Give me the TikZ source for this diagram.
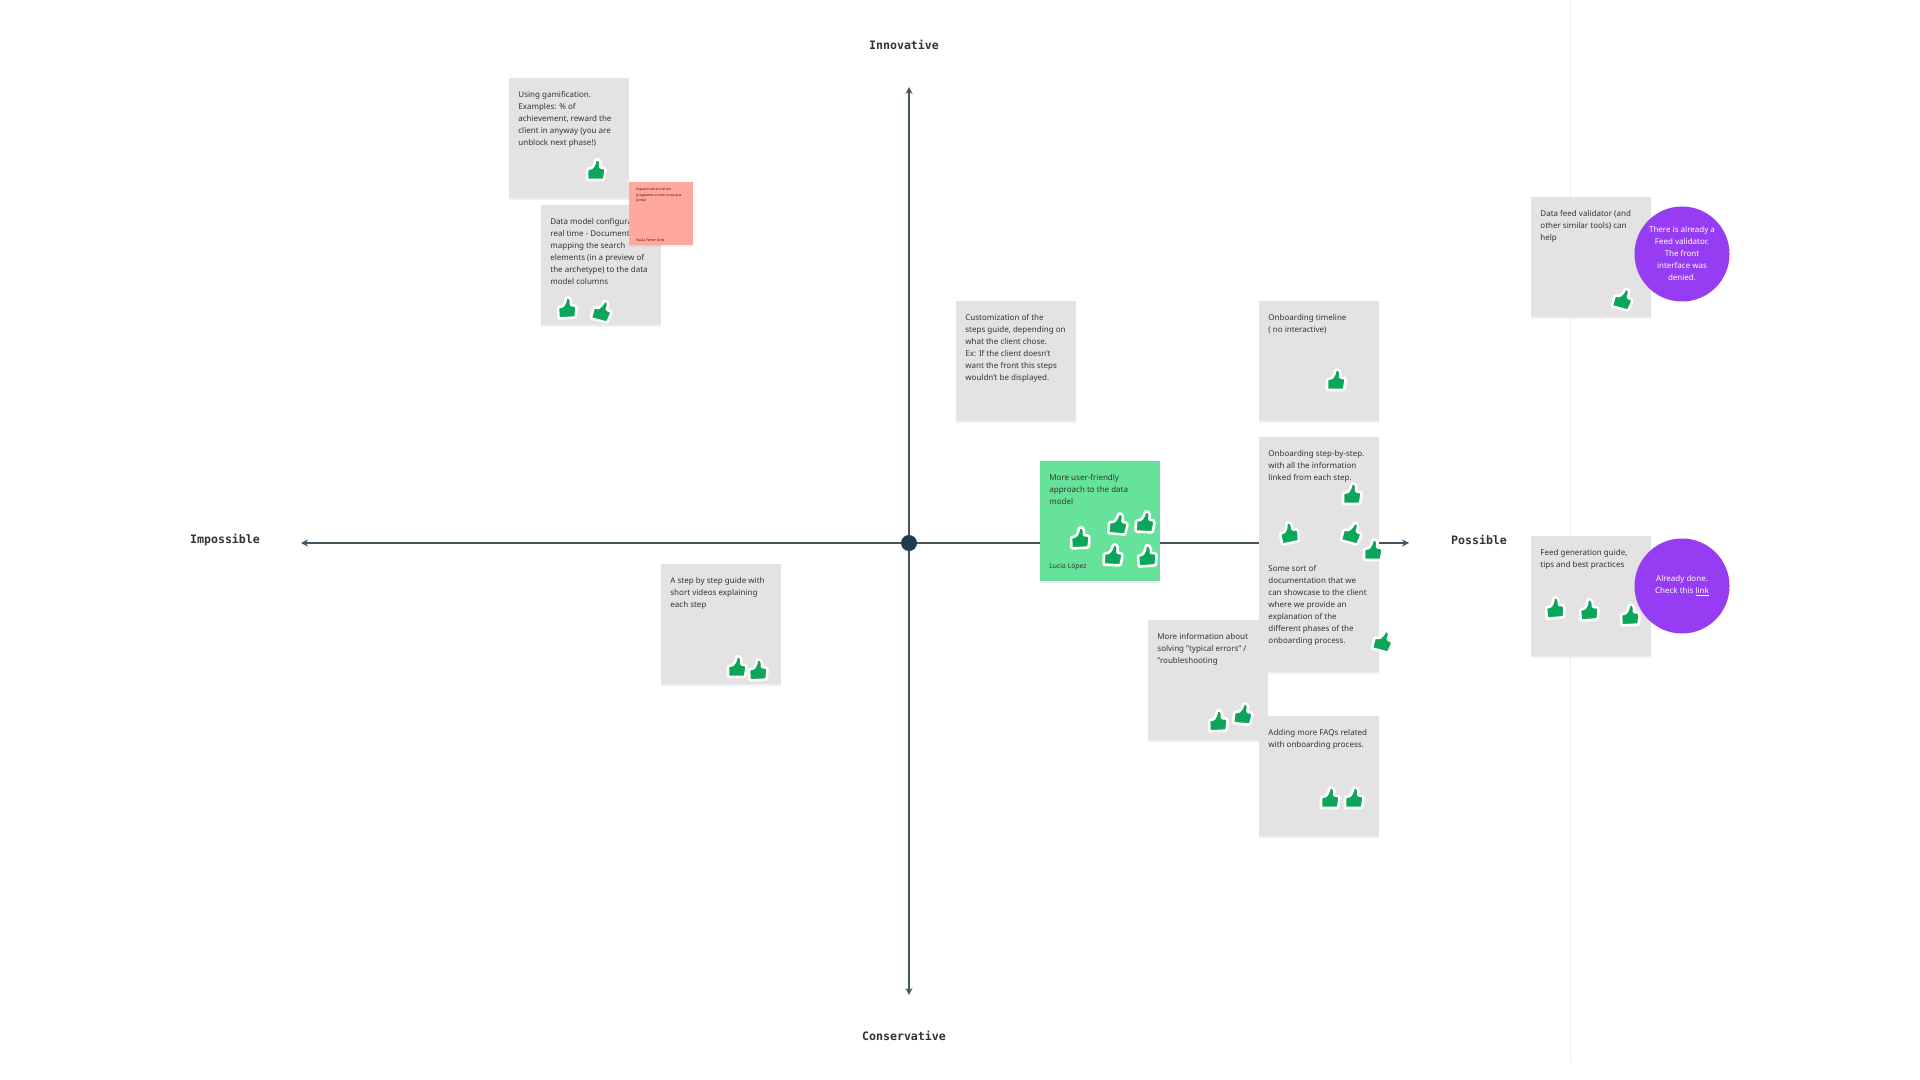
\documentclass[tikz,border=0pt]{standalone}
\usepackage{fontspec}
\setmainfont{Noto Sans}
\newfontfamily\axisfont{DejaVu Sans Mono}
\usetikzlibrary{arrows.meta,shadows}
\definecolor{notegrey}{HTML}{E3E3E3}
\definecolor{notegreen}{HTML}{67E29A}
\definecolor{notered}{HTML}{FFA99C}
\definecolor{thumbgreen}{HTML}{0CA65A}
\definecolor{axisink}{HTML}{46565F}
\definecolor{dotink}{HTML}{1F3B4D}
\definecolor{doneviolet}{HTML}{963CF2}
\definecolor{textink}{HTML}{333333}

\tikzset{
  thumb/.pic={
    \path[fill=thumbgreen, draw=white, line width=1.3pt, line join=round, rounded corners=0.5pt]
      (-9,-1) -- (-4,-2) -- (-1.5,-6) -- (-0.5,-10.5) -- (3,-10.5) -- (4.5,-7) -- (4,-2.5)
      -- (9,-2) -- (9.5,1) -- (8,10) -- (-9,10) -- cycle;
  }
}

\begin{document}
\begin{tikzpicture}[
  x=0.5pt, y=-0.5pt,
  note/.style={rectangle, fill=notegrey, anchor=north west, align=flush left, text=textink,
    font=\fontsize{4}{6}\selectfont, text width=51pt, inner sep=4.5pt, text height=5pt, text depth=45.7pt,
    drop shadow={shadow xshift=0pt, shadow yshift=-1pt, opacity=.12}},
  axislabel/.style={font=\axisfont\bfseries\fontsize{5.8}{7}\selectfont, text=textink, inner sep=0pt},
  axis/.style={{Stealth[length=3.5pt,width=3.5pt]}-{Stealth[length=3.5pt,width=3.5pt]}, draw=axisink, line width=1pt},
  bubble/.style={circle, fill=doneviolet, text=white, align=center, inner sep=0pt, minimum size=48pt,
    font=\fontsize{4}{6}\selectfont}]
  \useasboundingbox (0,0) rectangle (1920,1080);
  \draw[black!6, line width=0.5pt] (1570,0) -- (1570,1062);

  % axes
  \coordinate (top) at (909,87);
  \coordinate (bottom) at (909,995);
  \coordinate (left) at (301,543);
  \coordinate (right) at (1409,543);
  \draw[axis] (top) -- (bottom);
  \draw[axis] (left) -- (right);
  \node[circle, fill=dotink, inner sep=0pt, minimum size=8pt] (origin) at (909,543) {};
  \node[axislabel] (innovative) at (904,45) {Innovative};
  \node[axislabel] (conservative) at (904,1036) {Conservative};
  \node[axislabel] (impossible) at (225,540) {Impossible};
  \node[axislabel] (possible) at (1479,540) {Possible};

  % notes
  \node[note] (gamification) at (509,78) {Using gamification.\\Examples: \% of\\achievement, reward the\\client in anyway (you are\\unblock next phase!)};
  \node[note] (datamodel) at (541,205) {Data model configuration\\real time - Documents\\mapping the search\\elements (in a preview of\\the archetype) to the data\\model columns};
  \node[note, fill=notered, minimum width=32pt, minimum height=31.5pt, text width=25pt, inner sep=2pt, text height=2pt, text depth=25.5pt,
    font=\fontsize{1.7}{2.9}\selectfont, text=black!70!red] (comment) at (629,182) {Espais to dirá si té res\\programes a mon ni res que\\portal\\[17pt]Paula Ferrer Ortiz};
  \node[note] (customization) at (956,301) {Customization of the\\steps guide, depending on\\what the client chose.\\Ex: If the client doesn't\\want the front  this steps\\wouldn't be displayed.};
  \node[note] (timeline) at (1259,301) {Onboarding timeline\\( no interactive)};
  \node[note] (stepbystep) at (1259,437) {Onboarding step-by-step.\\with all the information\\linked from each step.};
  \node[note] (documentation) at (1259,552) {Some sort of\\documentation that we\\can showcase to the client\\where we provide an\\explanation of the\\different phases of the\\onboarding process.};
  \node[note] (errors) at (1148,620) {More information about\\solving "typical errors" /\\"roubleshooting};
  \node[note] (faqs) at (1259,716) {Adding more FAQs related\\with onboarding process.};
  \node[note] (videos) at (661,564) {A step by step guide with\\short videos explaining\\each step};
  \node[note, fill=notegreen, text=black!80] (friendly) at (1040,461) {More user-friendly\\approach to the data\\model\\[26pt]{\fontsize{3.4}{4}\selectfont Lucia López}};
  \node[note] (validator) at (1531,197) {Data feed validator (and\\other similar tools) can\\help};
  \node[note] (generation) at (1531,536) {Feed generation guide,\\tips and best practices};

  % votes
  \foreach \px/\py/\rot in {596/170/0, 567/308/3, 602/311/-15, 1336/380/0, 1352/494/0, 1289/533/12, 1352/533/-15, 1373/550/0,
    1383/641/-15, 1080/538/3, 1118/524/-5, 1145/522/-3, 1113/555/-3, 1147/556/5, 1218/721/3, 1243/714/-5,
    1330/798/0, 1354/798/0, 737/667/0, 758/670/3, 1623/299/-15, 1555/608/5, 1589/610/5, 1630/615/3}
    \pic[rotate=\rot] at (\px,\py) {thumb};

  % answers
  \node[bubble, minimum size=47.5pt] (validatorreply) at (1682,254) {There is already a\\Feed validator.\\The front\\interface was\\denied.};
  \node[bubble, minimum size=47.5pt] (generationreply) at (1682,586) {\\[-3pt]Already done.\\Check this \underline{link}};
\end{tikzpicture}
\end{document}
